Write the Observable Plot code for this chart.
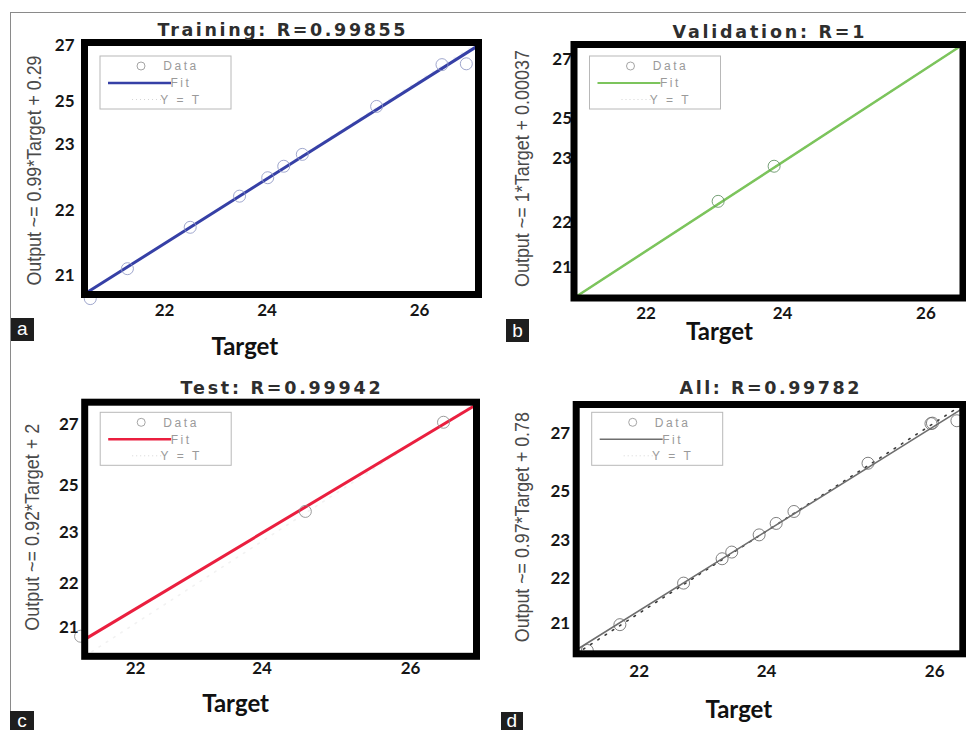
<!DOCTYPE html>
<html>
<head>
<meta charset="utf-8">
<script src="https://cdn.jsdelivr.net/npm/d3@7"></script>
<script src="https://cdn.jsdelivr.net/npm/@observablehq/plot@0.6"></script>
<style>
  html, body { margin: 0; padding: 0; background: #fff; }
  #fig { position: relative; width: 966px; height: 730px; overflow: hidden; background: #fff; }
  .panel { position: absolute; }
  .panel svg { overflow: visible; }
  .tag { position: absolute; background: #1e1e1e; color: #fff; font: 19px "Liberation Sans", Arial, sans-serif;
         text-align: center; }
  .hline { position: absolute; left: 10px; top: 12px; width: 956px; border-top: 1.5px solid #8a8a8a; }
  .vline { position: absolute; left: 10px; top: 12px; height: 718px; border-left: 1.5px solid #8a8a8a; }
</style>
</head>
<body>
<div id="fig">
  <div class="hline"></div>
  <div class="vline"></div>
</div>
<script>
// ---------- data ----------
const panelNames   = ["Training", "Validation", "Test", "All"];
const panelR       = ["0.99855", "1", "0.99942", "0.99782"];
const panelTags    = ["a", "b", "c", "d"];
const fitEquations = [
  "Output ~= 0.99*Target + 0.29",
  "Output ~= 1*Target + 0.00037",
  "Output ~= 0.92*Target + 2",
  "Output ~= 0.97*Target + 0.78"
];
const xTickLabels = ["22", "24", "26"];
const yTickLabels = ["21", "22", "23", "25", "27"];
const legendLabels = ["Data", "Fit", "Y = T"];

// Training
const trainingDomain = [20.9, 27.05];
const trainingTarget = [20.99, 21.57, 22.55, 23.32, 23.76, 24.01, 24.30, 25.46, 26.48, 26.86];
const trainingOutput = [20.80, 21.53, 22.54, 23.30, 23.75, 24.03, 24.32, 25.49, 26.51, 26.53];
const trainingFitTarget = [20.9, 27.05];
const trainingFitOutput = [20.91, 26.98];
const trainingXTickAt = [22.15, 23.75, 26.13];
const trainingYTickAt = [21.36, 22.95, 24.56, 25.61, 26.98];

// Validation
const validationDomain = [20.97, 26.53];
const validationTarget = [23.03, 23.83];
const validationOutput = [23.09, 23.86];
const validationFitTarget = [20.97, 26.53];
const validationFitOutput = [20.97, 26.53];
const validationXTickAt = [22.00, 23.95, 26.00];
const validationYTickAt = [21.64, 22.62, 24.03, 24.91, 26.20];

// Test
const testDomain = [21.3, 27.0];
const testTarget = [21.24, 24.51, 26.52];
const testOutput = [21.75, 24.55, 26.55];
const testFitTarget = [21.3, 27.0];
const testFitOutput = [21.68, 26.95];
const testXTickAt = [22.04, 23.88, 26.04];
const testYTickAt = [21.94, 22.93, 24.08, 25.13, 26.49];

// All
const allDomain = [21.25, 26.47];
const allTarget = [21.40, 21.84, 22.70, 23.22, 23.35, 23.72, 23.95, 24.19, 25.19, 26.06, 26.04, 26.39];
const allOutput = [21.32, 21.86, 22.73, 23.24, 23.38, 23.74, 23.98, 24.23, 25.24, 26.08, 26.07, 26.13];
const allFitTarget = [21.25, 26.47];
const allFitOutput = [21.33, 26.39];
const allXTickAt = [22.10, 23.82, 26.09];
const allYTickAt = [21.88, 22.82, 23.62, 24.65, 25.86];

// ---------- layout & styles ----------
const panels = [
  { domain: trainingDomain, target: trainingTarget, output: trainingOutput,
    fitT: trainingFitTarget, fitO: trainingFitOutput, xAt: trainingXTickAt, yAt: trainingYTickAt,
    left: 0, top: 0, m: [42, 5, 71, 84], xPad: 9, yPad: 10,
    color: "#3640a6", lw: 3, dot: "#8f98c4", ident: "#eef0f8", legLw: 2.6, legTop: 14,
    titleDy: -12, titleLen: 248, ylDx: -50.7, ylDy: 2, ylLen: 230, tDx: -36.7, tDy: 52.7,
    tag: [10.7, 318.3, 23.3, 22.4] },
  { domain: validationDomain, target: validationTarget, output: validationOutput,
    fitT: validationFitTarget, fitO: validationFitOutput, xAt: validationXTickAt, yAt: validationYTickAt,
    left: 483, top: 0, m: [44, 3.5, 67.5, 90.5], xPad: 8.5, yPad: 2,
    color: "#7cc45c", lw: 2.5, dot: "#5f8f5f", ident: "#9bbf8f", legLw: 2.2, legTop: 12,
    titleDy: -12.3, titleLen: 192, ylDx: -51.8, ylDy: -2.7, ylLen: 237, tDx: -49, tDy: 34.2,
    tag: [506, 319, 23, 23] },
  { domain: testDomain, target: testTarget, output: testOutput,
    fitT: testFitTarget, fitO: testFitOutput, xAt: testXTickAt, yAt: testYTickAt,
    left: 0, top: 365, m: [36.7, 7, 74.2, 84.2], xPad: 6, yPad: 6,
    color: "#ea1f3f", lw: 3, dot: "#8a8a8a", ident: "#f2f2f2", legLw: 2.6, legTop: 10.6,
    titleDy: -14, titleLen: 200, ylDx: -52.5, ylDy: -2, ylLen: 207, tDx: -45, tDy: 48.5,
    tag: [10, 711, 24, 19] },
  { domain: allDomain, target: allTarget, output: allOutput,
    fitT: allFitTarget, fitO: allFitOutput, xAt: allXTickAt, yAt: allYTickAt,
    left: 483, top: 365, m: [39, 3.7, 76.7, 92.7], xPad: 11.5, yPad: 6,
    color: "#6e6e6e", lw: 1.6, dot: "#6a6a6a", ident: "#3a3a3a", legLw: 1.4, legTop: 8.3,
    titleDy: -16.3, titleLen: 180, ylDx: -54, ylDy: -2, ylLen: 230, tDx: -30.7, tDy: 56.7,
    tag: [500.7, 711.7, 22, 18.3] }
];

function legendMark(top, color, lw) {
  return (index, scales, values, dim) => {
    const L = dim.marginLeft + 16, T = dim.marginTop + top;
    const g = d3.create("svg:g")
      .attr("font-family", "'Liberation Sans', Arial, sans-serif")
      .attr("font-size", 12).attr("font-weight", "normal")
      .attr("fill", "#9a9a9a").style("letter-spacing", "2.6px");
    g.append("rect").attr("x", L).attr("y", T).attr("width", 131).attr("height", 53)
      .attr("fill", "#fff").attr("stroke", "#b8b8b8").attr("stroke-width", 1);
    g.append("circle").attr("cx", L + 41).attr("cy", T + 10).attr("r", 4)
      .attr("fill", "none").attr("stroke", "#a5a5a5").attr("stroke-width", 1);
    g.append("line").attr("x1", L + 8).attr("x2", L + 71).attr("y1", T + 27).attr("y2", T + 27)
      .attr("stroke", color).attr("stroke-width", lw);
    g.append("line").attr("x1", L + 32).attr("x2", L + 62).attr("y1", T + 43.5).attr("y2", T + 43.5)
      .attr("stroke", "#d5d5d5").attr("stroke-width", 1).attr("stroke-dasharray", "1 3");
    [10, 27, 43.5].forEach((dy, i) => {
      g.append("text").attr("x", L + 81).attr("y", T + dy).attr("dy", "0.35em").text(legendLabels[i]);
    });
    return g.node();
  };
}

const fig = document.getElementById("fig");

panels.forEach((p, k) => {
  const xMap = new Map(p.xAt.map((v, i) => [v, xTickLabels[i]]));
  const yMap = new Map(p.yAt.map((v, i) => [v, yTickLabels[i]]));
  const pts = p.target.map((t, i) => ({ t, o: p.output[i] }));
  const fit = p.fitT.map((t, i) => ({ t, o: p.fitO[i] }));
  const ident = p.domain.map(v => ({ t: v, o: v }));
  const titleStr = `${panelNames[k]}: R=${panelR[k]}`;

  const chart = Plot.plot({
    width: 483, height: 365,
    marginTop: p.m[0], marginRight: p.m[1], marginBottom: p.m[2], marginLeft: p.m[3],
    x: { domain: p.domain },
    y: { domain: p.domain },
    style: { fontFamily: "Lato, 'Open Sans', sans-serif", fontSize: "17px", fontWeight: "bold",
             color: "#161616", background: "transparent", overflow: "visible" },
    marks: [
      Plot.line(ident, { x: "t", y: "o", stroke: p.ident, strokeWidth: 1.6, strokeDasharray: "1.6 7" }),
      Plot.line(fit, { x: "t", y: "o", stroke: p.color, strokeWidth: p.lw }),
      Plot.dot(pts, { x: "t", y: "o", r: 6, stroke: p.dot, strokeWidth: 1, fill: "none", strokeOpacity: 0.85 }),
      Plot.axisX({ ticks: p.xAt, tickFormat: d => xMap.get(d), tickSize: 0, tickPadding: p.xPad, label: null }),
      Plot.axisY({ ticks: p.yAt, tickFormat: d => yMap.get(d), tickSize: 0, tickPadding: p.yPad, label: null }),
      Plot.frame({ stroke: "#000", strokeWidth: 7 }),
      legendMark(p.legTop, p.color, p.legLw),
      Plot.text([titleStr], {
        frameAnchor: "top", dy: p.titleDy, lineAnchor: "middle", textAnchor: "middle",
        fontFamily: "'DejaVu Sans', Verdana, sans-serif", fontSize: 17.5, fontWeight: "bold", fill: "#2e2e2e"
      }),
      Plot.text([fitEquations[k]], {
        frameAnchor: "left", rotate: -90, dx: p.ylDx, dy: p.ylDy, lineAnchor: "middle", textAnchor: "middle",
        fontFamily: "'Liberation Sans', Arial, sans-serif",
        fontSize: 21, fontWeight: "normal", fill: "#4a4a4a"
      }),
      Plot.text(["Target"], {
        frameAnchor: "bottom", dx: p.tDx, dy: p.tDy, lineAnchor: "middle", textAnchor: "middle",
        fontFamily: "Lato, 'Open Sans', sans-serif", fontSize: 24, fontWeight: "bold", fill: "#111"
      })
    ]
  });

  // match the stretched lettering of the original title and the narrow y label
  const svg = d3.select(chart);
  svg.selectAll("text").filter(function () { return this.textContent === titleStr; })
    .attr("textLength", p.titleLen).attr("lengthAdjust", "spacing");
  svg.selectAll("text").filter(function () { return this.textContent === fitEquations[k]; })
    .attr("textLength", p.ylLen).attr("lengthAdjust", "spacingAndGlyphs");

  const holder = document.createElement("div");
  holder.className = "panel";
  holder.style.left = p.left + "px";
  holder.style.top = p.top + "px";
  holder.appendChild(chart);
  fig.appendChild(holder);

  const tag = document.createElement("div");
  tag.className = "tag";
  tag.style.left = p.tag[0] + "px";
  tag.style.top = p.tag[1] + "px";
  tag.style.width = p.tag[2] + "px";
  tag.style.height = p.tag[3] + "px";
  tag.style.lineHeight = p.tag[3] + "px";
  tag.textContent = panelTags[k];
  fig.appendChild(tag);
});
</script>
</body>
</html>
